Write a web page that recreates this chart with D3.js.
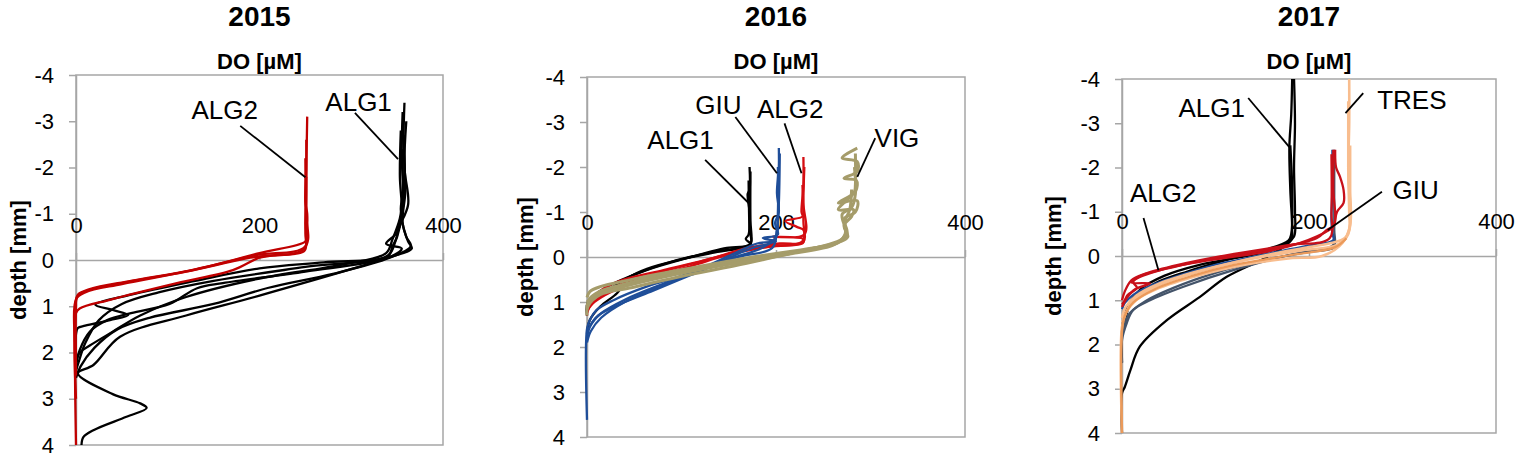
<!DOCTYPE html>
<html>
<head>
<meta charset="utf-8">
<script src="https://cdn.jsdelivr.net/npm/d3@7"></script>
<style>
  body { margin: 0; background: #fff; }
  text { font-family: "Liberation Sans", Arial, sans-serif; fill: #000; }
</style>
</head>
<body>
<svg id="chart" width="1533" height="459"></svg>
<script>
// ---- data: oxygen profiles, each point is [DO (uM), depth (mm)] ----
const years = ["2015", "2016", "2017"];
const depthTicks = [-4, -3, -2, -1, 0, 1, 2, 3, 4];
const doTicks = [0, 200, 400];

const alg1_2015 = [
  [[358,-3.4],[357,-2.5],[359,-1.5],[356,-0.8],[362,-0.4],[366,-0.25],[340,-0.05],[200,0.77],[120,1.2],[48,1.66],[19,2.27],[2,2.45],[40,2.9],[70,3.1],[77,3.2],[55,3.39],[19,3.68],[8,3.83],[6,4.0]],
  [[356,-3.2],[355,-2.2],[357,-1.3],[350,-0.6],[338,-0.35],[355,-0.25],[340,-0.05],[250,0.25],[160,0.5],[132,0.61],[102,0.95],[60,1.15],[34,1.3],[15,1.55],[4,1.95],[0,2.3]],
  [[354,-2.8],[353,-1.8],[355,-1.0],[350,-0.5],[345,-0.3],[340,-0.08],[270,0.05],[200,0.18],[130,0.45],[60,0.75],[21,0.97],[40,1.08],[57,1.19],[37,1.3],[10,1.42],[2,1.47],[0,1.6],[0,2.5]],
  [[360,-3.0],[358,-2.0],[362,-1.2],[352,-0.7],[348,-0.4],[340,-0.1],[250,0.15],[150,0.45],[90,0.7],[50,0.95],[25,1.3],[10,1.8],[3,2.2],[0,2.4]],
  [[357,-2.7],[358,-1.6],[354,-1.1],[360,-0.5],[365,-0.3],[342,-0.05],[280,0.3],[210,0.6],[150,0.95],[80,1.25],[45,1.5],[20,1.9],[5,2.3],[0,2.55]],
  [[355,-2.4],[356,-1.4],[353,-0.9],[345,-0.45],[338,-0.15],[290,0.1],[200,0.4],[120,0.8],[70,1.2],[40,1.55],[15,1.85],[4,2.0],[0,2.2]]
];
const alg2_2015 = [
  [[252,-3.1],[251,-2],[250,-1.25],[252,-1.0],[251,-0.5],[250,-0.4],[200,-0.15],[130,0.2],[60,0.45],[15,0.63],[2,0.75],[0,0.9],[0,4]],
  [[251,-2.6],[251,-1],[250,-0.3],[195,-0.1],[125,0.23],[55,0.48],[12,0.66],[1,0.8],[0,1.0],[0,2.5]],
  [[250,-2.2],[250,-0.8],[249,-0.25],[190,-0.05],[120,0.25],[50,0.52],[10,0.7],[0,0.85],[0,2]],
  [[251,-1.8],[250,-0.6],[249,-0.2],[215,-0.1],[200,-0.05],[171,0.22],[110,0.5],[37,0.86],[4,1.05],[0,1.15],[0,3]]
];

const alg1_2016 = [
  [[172,-2.0],[172,-1.5],[170,-1.4],[172,-1.0],[171,-0.5],[168,-0.4],[174,-0.27],[148,-0.2],[98,0.07],[63,0.29],[45,0.44],[28,0.66],[14,0.84],[1,1.0],[0,1.3]],
  [[173,-1.9],[173,-0.8],[174,-0.35],[172,-0.25],[140,-0.12],[100,0.05],[65,0.25],[45,0.45],[32,0.8],[14,1.1],[3,1.4],[0,1.7]],
  [[171,-1.7],[172,-0.6],[173,-0.3],[130,-0.1],[90,0.1],[55,0.35],[25,0.62],[8,0.85],[0,1.1]]
];
const alg2_2016 = [
  [[229,-2.22],[229,-1.6],[227,-1.0],[228,-0.9],[210,-0.8],[222,-0.67],[229,-0.6],[229,-0.33],[204,-0.3],[169,-0.2],[134,0.02],[81,0.29],[38,0.51],[21,0.66],[7,0.88],[1,1.1],[0,1.3]],
  [[230,-2.0],[229,-1.2],[230,-0.5],[197,-0.45],[229,-0.4],[228,-0.3],[200,-0.25],[160,-0.12],[120,0.1],[70,0.38],[35,0.62],[15,0.85],[4,1.05],[0,1.25]],
  [[228,-1.6],[229,-0.8],[228,-0.35],[190,-0.22],[150,-0.05],[110,0.2],[60,0.5],[25,0.78],[8,1.0],[0,1.2]]
];
const giu_2016 = [
  [[203,-2.42],[203,-2],[201,-1.42],[203,-1.0],[199,-0.75],[202,-0.5],[186,-0.42],[200,-0.35],[180,-0.3],[160,-0.12],[109,0.36],[63,0.66],[28,0.96],[10,1.18],[3,1.4],[0,1.6],[0,3.62]],
  [[204,-2.3],[203,-1.2],[201,-0.6],[198,-0.35],[175,-0.2],[130,0.2],[80,0.6],[40,0.95],[15,1.25],[4,1.5],[0,1.8]],
  [[202,-2.0],[202,-1.0],[200,-0.45],[185,-0.2],[150,0.05],[110,0.4],[70,0.75],[35,1.05],[12,1.3],[3,1.55],[0,1.7]],
  [[203,-1.8],[201,-0.6],[196,-0.2],[160,0.0],[120,0.3],[75,0.68],[40,1.0],[15,1.35],[4,1.65],[0,1.9]]
];
const vig_2016 = [
  [[286,-2.42],[270,-2.2],[286,-2.12],[286,-1.9],[272,-1.75],[285,-1.7],[284,-1.45],[266,-1.2],[286,-1.25],[284,-1.0],[272,-0.85],[275,-0.6],[275,-0.49],[265,-0.31],[239,-0.2],[169,0.02],[98,0.29],[45,0.51],[14,0.66],[3,0.77],[0,0.9]],
  [[284,-2.3],[284,-1.6],[283,-1.45],[266,-1.05],[282,-1.05],[280,-0.9],[272,-0.7],[276,-0.45],[268,-0.34],[230,-0.15],[169,0.14],[98,0.44],[45,0.69],[14,0.84],[1,1.1],[0,1.3]],
  [[283,-2.0],[284,-1.4],[280,-1.1],[270,-0.95],[274,-0.55],[270,-0.4],[220,-0.1],[150,0.12],[90,0.36],[40,0.6],[12,0.78],[2,0.95],[0,1.15]],
  [[280,-1.5],[278,-1.05],[273,-0.8],[273,-0.5],[262,-0.28],[210,-0.05],[140,0.2],[80,0.45],[35,0.68],[10,0.85],[0,1.0]]
];

const alg1_2017 = [
  [[182,-4],[181,-3.2],[179,-2.46],[180,-1.5],[182,-0.59],[181,-0.36],[155,0.02],[112,0.47],[83,0.93],[48,1.45],[19,2.05],[9,2.58],[3,2.96],[0,3.1],[0,4]],
  [[184,-4],[185,-3],[184,-2],[185,-1],[184,-0.44],[176,-0.29],[162,-0.14],[120,0.05],[83,0.2],[45,0.45],[20,0.75],[8,1.1],[3,1.5],[0,1.8]],
  [[180,-2.5],[182,-1.5],[181,-0.5],[178,-0.35],[150,-0.12],[110,0.1],[70,0.35],[35,0.62],[12,0.95],[3,1.3],[0,1.7],[0,2.4]]
];
const giu_2017 = [
  [[225,-2.4],[225,-1.5],[224,-0.8],[225,-0.52],[226,-0.36],[204,-0.25],[176,-0.14],[140,0.02],[100,0.2],[60,0.45],[30,0.68],[12,0.88],[3,1.06],[0,1.2]]
];
const giuGrey_2017 = [
  [[227,-2.4],[227,-1.5],[227,-0.6],[227,-0.2],[219,-0.14],[190,-0.07],[119,0.32],[65,0.7],[30,1.0],[12,1.22],[5,1.52],[0,1.9],[0,2.42]],
  [[226,-0.5],[226,-0.25],[200,-0.1],[150,0.1],[100,0.38],[55,0.72],[25,1.02],[8,1.3],[2,1.6],[0,1.8]]
];
const tres_2017 = [
  [[243,-4],[243,-3],[242,-2],[243,-1],[243,-0.6],[238,-0.4],[225,-0.3],[200,-0.2],[150,0.0],[100,0.25],[60,0.5],[30,0.75],[12,1.0],[4,1.3],[0,1.6],[0,4]],
  [[244,-2.5],[244,-1.5],[244,-0.7],[236,-0.3],[214,0.0],[180,0.05],[130,0.2],[80,0.45],[40,0.72],[15,1.0],[5,1.25],[0,1.5]],
  [[242,-3.5],[242,-2],[242,-0.5],[230,-0.25],[190,-0.12],[130,0.1],[80,0.35],[40,0.62],[15,0.9],[4,1.15],[0,1.4]]
];
const tresDark_2017 = [
  [[240,-0.4],[228,-0.2],[180,-0.02],[120,0.2],[75,0.45],[35,0.75],[12,1.05],[3,1.35],[0,1.7],[0,4]]
];
const alg2_2017 = [
  [[228,-2.4],[229,-2.0],[233,-1.8],[237,-1.49],[237,-1.2],[230,-1.0],[226,-0.66],[222,-0.59],[208,-0.44],[190,-0.29],[155,-0.1],[83,0.13],[41,0.32],[12,0.58],[16,0.72],[6,0.88],[3,1.0],[0,1.1]],
  [[226,-2.4],[226,-1.5],[227,-0.7],[219,-0.59],[208,-0.4],[155,-0.14],[100,0.05],[55,0.25],[20,0.45],[10,0.6],[30,0.62],[14,0.75],[5,0.95],[0,1.15]],
  [[224,-2.3],[224,-1.0],[222,-0.4],[180,-0.25],[120,-0.05],[60,0.2],[25,0.4],[10,0.55],[3,0.8],[0,1.0]]
];

// site labels with leader lines, in data units
const notes2015 = [
  { text: "ALG2", at: [162, -3.24], line: [[179, -2.9], [250, -1.79]] },
  { text: "ALG1", at: [308, -3.42], line: [[304, -3.18], [351, -2.18]] }
];
const notes2016 = [
  { text: "ALG1", at: [99, -2.6], line: [[125, -2.16], [171, -1.2]] },
  { text: "GIU", at: [139, -3.38], line: [[157, -3.11], [201, -1.86]] },
  { text: "ALG2", at: [215, -3.3], line: [[209, -2.97], [227, -1.86]] },
  { text: "VIG", at: [328, -2.64], line: [[305, -2.64], [286, -1.78]] }
];
const notes2017 = [
  { text: "ALG1", at: [96, -3.35], line: [[135, -3.57], [179, -2.46]] },
  { text: "TRES", at: [310, -3.53], line: [[258, -3.68], [239, -3.23]] },
  { text: "GIU", at: [314, -1.49], line: [[278, -1.45], [220, -0.59]] },
  { text: "ALG2", at: [44, -1.42], line: [[23, -0.86], [39, 0.32]] }
];

const panels = [
  { title: years[0], l: 76, r: 443, t: 75, b: 445, ylabX: 18, notes: notes2015,
    series: [ { data: alg1_2015, color: "#000000" }, { data: alg2_2015, color: "#c00000" } ] },
  { title: years[1], l: 587, r: 965, t: 77, b: 437, ylabX: 525, notes: notes2016,
    series: [ { data: alg1_2016, color: "#000000" }, { data: alg2_2016, color: "#d40d12" },
              { data: giu_2016, color: "#1f4e99" }, { data: vig_2016, color: "#a59c6a", w: 3 } ] },
  { title: years[2], l: 1122, r: 1496, t: 79, b: 433, ylabX: 1053, notes: notes2017,
    series: [ { data: alg1_2017, color: "#000000" }, { data: giuGrey_2017, color: "#44546a" },
              { data: giu_2017, color: "#1f4e99" }, { data: tres_2017, color: "#f8bd8e", w: 2.6 },
              { data: tresDark_2017, color: "#eb9a5a" }, { data: alg2_2017, color: "#c8101a" } ] }
];

const svg = d3.select("#chart");
const grey = "#a6a6a6";

panels.forEach(p => {
  const x = d3.scaleLinear().domain([0, 400]).range([p.l, p.r]);
  const y = d3.scaleLinear().domain([-4, 4]).range([p.t, p.b]);
  const g = svg.append("g");

  g.append("rect")
    .attr("x", p.l).attr("y", p.t)
    .attr("width", p.r - p.l).attr("height", p.b - p.t)
    .attr("fill", "none").attr("stroke", grey).attr("stroke-width", 1.5);

  const yAxis = g.append("g")
    .attr("transform", `translate(${p.l},0)`)
    .call(d3.axisLeft(y).tickValues(depthTicks).tickSize(7).tickSizeOuter(0)
      .tickPadding(15).tickFormat(d => String(d)));
  yAxis.select(".domain").attr("stroke", grey).attr("stroke-width", 1.5);
  yAxis.selectAll(".tick line").attr("stroke", grey).attr("stroke-width", 1.5);
  yAxis.selectAll("text").style("font-size", "22px").attr("fill", "#000");

  const xAxis = g.append("g")
    .attr("transform", `translate(0,${y(0)})`)
    .call(d3.axisTop(x).tickValues(doTicks).tickSize(7).tickSizeOuter(0).tickPadding(20));
  xAxis.select(".domain").attr("stroke", grey).attr("stroke-width", 1.5);
  xAxis.selectAll(".tick line").attr("stroke", grey).attr("stroke-width", 1.5);
  xAxis.selectAll("text").style("font-size", "22px").attr("fill", "#000");

  const line = d3.line()
    .x(d => x(d[0])).y(d => y(d[1]))
    .curve(d3.curveCatmullRom.alpha(0.5));

  p.series.forEach(s => {
    g.selectAll(null)
      .data(s.data)
      .enter()
      .append("path")
      .attr("d", line)
      .attr("fill", "none")
      .attr("stroke", s.color)
      .attr("stroke-width", s.w || 2.3)
      .attr("stroke-linejoin", "round");
  });

  p.notes.forEach(n => {
    g.append("line")
      .attr("x1", x(n.line[0][0])).attr("y1", y(n.line[0][1]))
      .attr("x2", x(n.line[1][0])).attr("y2", y(n.line[1][1]))
      .attr("stroke", "#000").attr("stroke-width", 1.8);
    g.append("text")
      .attr("x", x(n.at[0])).attr("y", y(n.at[1]))
      .attr("text-anchor", "middle").attr("dominant-baseline", "central")
      .style("font-size", "26px")
      .text(n.text);
  });

  const cx = (p.l + p.r) / 2;
  svg.append("text")
    .attr("x", cx).attr("y", 16)
    .attr("text-anchor", "middle").attr("dominant-baseline", "central")
    .style("font-size", "28px").style("font-weight", "bold")
    .text(p.title);
  svg.append("text")
    .attr("x", cx).attr("y", 61)
    .attr("text-anchor", "middle").attr("dominant-baseline", "central")
    .style("font-size", "22px").style("font-weight", "bold")
    .text("DO [µM]");
  svg.append("text")
    .attr("transform", `translate(${p.ylabX},${y(0)}) rotate(-90)`)
    .attr("text-anchor", "middle").attr("dominant-baseline", "central")
    .style("font-size", "22px").style("font-weight", "bold")
    .text("depth [mm]");
});
</script>
</body>
</html>
